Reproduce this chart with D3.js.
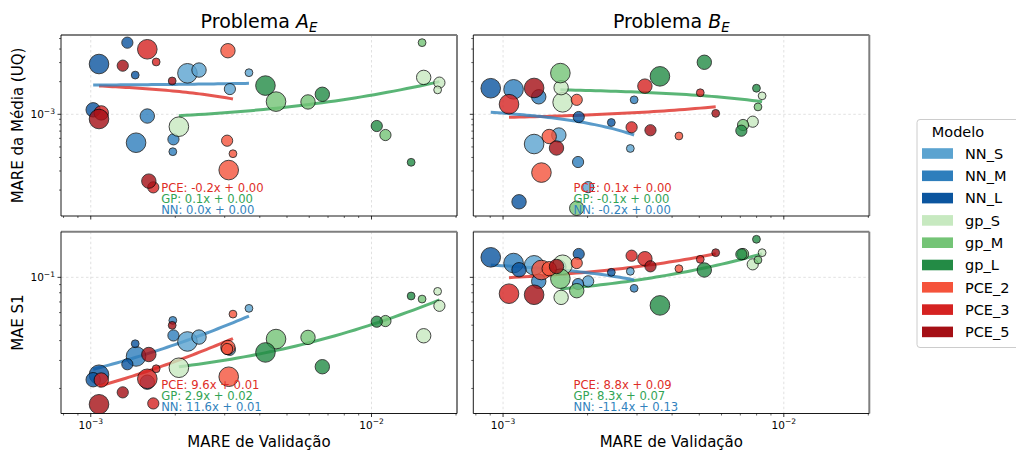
<!DOCTYPE html>
<html><head><meta charset="utf-8">
<script src="https://cdn.jsdelivr.net/npm/d3@7"></script>
<style>
body{margin:0;background:#fff;}
svg{display:block;font-family:"DejaVu Sans",sans-serif;}
</style>
</head><body>
<svg id="c" width="1016" height="450"></svg>
<script>
// ---------------- DATA ----------------
const modelos = ["NN_S","NN_M","NN_L","gp_S","gp_M","gp_L","PCE_2","PCE_3","PCE_5"];
const problemasTitulo = ["A","B"];
// model of each point (same layout in both problems)
const modeloPonto = [
 "NN_S","NN_S","NN_S","NN_S","NN_M","NN_M","NN_M","NN_M","NN_L","NN_L","NN_L","NN_L",
 "gp_S","gp_S","gp_S","gp_S","gp_M","gp_M","gp_M","gp_M","gp_L","gp_L","gp_L","gp_L",
 "PCE_2","PCE_2","PCE_2","PCE_2","PCE_3","PCE_3","PCE_3","PCE_3","PCE_5","PCE_5","PCE_5","PCE_5"];
// size class of each point (1 = smallest ... 4 = largest)
const tamanhoPonto = [4,3,2,1, 4,3,2,1, 4,3,2,1, 4,3,2,1, 4,3,2,1, 4,3,2,1, 4,3,2,1, 4,3,2,1, 4,3,2,1];

// Problema A_E
const valA = [2.21e-3,2.43e-3,3.13e-3,3.66e-3, 1.45e-3,1.59e-3,1.97e-3,1.96e-3, 1.07e-3,1.02e-3,1.35e-3,1.44e-3,
              2.06e-3,1.534e-2,1.745e-2,1.72e-2, 4.57e-3,5.94e-3,1.121e-2,1.514e-2, 4.19e-3,6.68e-3,1.044e-2,1.384e-2,
              3.10e-3,3.08e-3,3.06e-3,3.21e-3, 1.59e-3,1.09e-3,1.67e-3,1.71e-3, 1.07e-3,1.61e-3,1.30e-3,1.95e-3];
const uqA  = [2.39e-3,2.56e-3,1.71e-3,2.42e-3, 5.47e-4,9.64e-4,5.88e-4,4.52e-4, 2.91e-3,1.10e-3,4.58e-3,2.30e-3,
              7.69e-4,2.19e-3,1.96e-3,1.68e-3, 1.31e-3,1.30e-3,6.44e-4,4.58e-3, 1.84e-3,1.53e-3,7.80e-4,3.61e-4,
              3.06e-4,3.86e-3,5.71e-4,4.33e-4, 3.98e-3,1.03e-3,2.12e-4,3.04e-3, 9.05e-4,2.42e-4,2.81e-3,2.03e-3];
const s1A  = [0.0395,0.0421,0.0350,0.0638, 0.0318,0.0219,0.0431,0.0536, 0.0244,0.0227,0.0284,0.0382,
              0.0270,0.0429,0.0662,0.0816, 0.0409,0.0419,0.0531,0.0730, 0.0337,0.0274,0.0526,0.0763,
              0.0237,0.0362,0.0354,0.0587, 0.0230,0.0226,0.0161,0.0266, 0.0159,0.0327,0.0189,0.0499];

// Problema B_E
const valB = [1.29e-3,1.58e-3,2.01e-3,2.84e-3, 1.09e-3,1.34e-3,1.85e-3,2.93e-3, 9.04e-4,1.14e-3,1.86e-3,2.43e-3,
              1.63e-3,1.61e-3,7.75e-3,8.37e-3, 1.60e-3,1.83e-3,7.16e-3,8.09e-3, 3.62e-3,5.21e-3,7.06e-3,7.99e-3,
              1.37e-3,1.46e-3,1.83e-3,4.23e-3, 1.05e-3,3.20e-3,2.87e-3,5.04e-3, 1.29e-3,1.55e-3,3.35e-3,5.72e-3];
const uqB  = [5.32e-4,6.44e-4,2.13e-4,4.84e-4, 1.70e-3,1.45e-3,3.63e-4,1.36e-3, 1.74e-3,1.56e-4,9.44e-4,8.40e-4,
              1.29e-3,1.76e-3,8.55e-4,1.48e-3, 2.40e-3,1.36e-4,7.97e-4,1.17e-3, 2.24e-3,3.02e-3,7.06e-4,1.74e-3,
              2.90e-4,6.24e-4,1.36e-3,6.31e-4, 1.24e-3,1.82e-3,7.59e-4,1.58e-3, 1.75e-3,4.89e-4,7.13e-4,1.02e-3];
const s1B  = [0.1190,0.1161,0.0944,0.1091, 0.1230,0.0944,0.0907,0.0853, 0.1336,0.1116,0.1402,0.1075,
              0.1200,0.0748,0.1207,0.1429, 0.0980,0.0824,0.1402,0.1285, 0.0666,0.1112,0.1395,0.1735,
              0.1112,0.1133,0.1230,0.1133, 0.0789,0.1310,0.1368,0.1298, 0.0777,0.1170,0.1173,0.1429];

// linear fits y = a*x + b  (order: PCE, GP, NN)
const gruposAjuste = ["PCE","GP","NN"];
const inclA_UQ = [-0.206, 0.0669, 0.026],  intA_UQ = [2.046e-3, 0.833e-3, 1.836e-3];
const inclA_S1 = [9.6, 2.9, 11.6],         intA_S1 = [0.0104, 0.0214, 0.0146];
const inclB_UQ = [0.0507, -0.0552, -0.197], intB_UQ = [0.885e-3, 1.769e-3, 1.221e-3];
const inclB_S1 = [8.8, 8.3, -11.4],        intB_S1 = [0.0903, 0.0712, 0.1297];

// axis ticks
const xTicksMaior = [1e-3, 1e-2];
const yTicksMaiorUQ = [1e-3];
const yTicksMaiorS1 = [1e-1];

// ---------------- STYLE ----------------
const corModelo = {NN_S:"#5ba3d0",NN_M:"#2e7ebc",NN_L:"#0b559f",gp_S:"#c7e9c0",gp_M:"#74c476",gp_L:"#238b45",
                   PCE_2:"#f5533b",PCE_3:"#d52221",PCE_5:"#a50f15"};
const corGrupo = {PCE:"#de2d26", GP:"#31a354", NN:"#3182bd"};
const grupoDe = m => m.startsWith("NN") ? "NN" : (m.startsWith("gp") ? "GP" : "PCE");
const rScale = d3.scaleOrdinal().domain([1,2,3,4]).range([3.9,5.6,7.2,9.8]);

const PW = 396;
const xDomain = [Math.pow(10,-3.106), Math.pow(10,-1.6955)];
const colunas = [61, 473.3];
const linhas = [
  {y0:35, h:181, dom:[Math.pow(10,-3.938), Math.pow(10,-2.2685)], chave:"uq", maior:yTicksMaiorUQ, rot:"MARE da Média (UQ)"},
  {y0:231.7, h:181.8, dom:[Math.pow(10,-1.8565), Math.pow(10,-0.713)], chave:"s1", maior:yTicksMaiorS1, rot:"MAE S1"}
];
const probs = [
  {val:valA, uq:uqA, s1:s1A, aj:{uq:[inclA_UQ,intA_UQ], s1:[inclA_S1,intA_S1]}},
  {val:valB, uq:uqB, s1:s1B, aj:{uq:[inclB_UQ,intB_UQ], s1:[inclB_S1,intB_S1]}}
];

const svg = d3.select("#c");
const FONT_TICK = 10.5;

function supLabel(sel, v){
  const e = Math.round(Math.log10(v));
  sel.append("tspan").text("10");
  sel.append("tspan").attr("dy",-4.6).attr("font-size",FONT_TICK*0.72).text("\u2212"+Math.abs(e));
}

let clipId = 0;
probs.forEach((P, ci) => {
  const x0 = colunas[ci];
  const x = d3.scaleLog().domain(xDomain).range([x0, x0+PW]);
  const xMenor = x.ticks().filter(t => !xTicksMaior.some(m => Math.abs(m-t)/m < 1e-6));
  linhas.forEach((L, ri) => {
    const y = d3.scaleLog().domain(L.dom).range([L.y0+L.h, L.y0]);
    const yMenor = y.ticks().filter(t => !L.maior.some(m => Math.abs(m-t)/m < 1e-6));
    const g = svg.append("g");
    const cid = "clip"+(clipId++);
    svg.append("clipPath").attr("id",cid).append("rect").attr("x",x0).attr("y",L.y0).attr("width",PW).attr("height",L.h);
    const gc = g.append("g").attr("clip-path",`url(#${cid})`);
    // grid
    xTicksMaior.forEach(t => gc.append("line").attr("x1",x(t)).attr("x2",x(t)).attr("y1",L.y0).attr("y2",L.y0+L.h)
      .attr("stroke","#d9d9d9").attr("stroke-width",0.8).attr("stroke-dasharray","2.5,2.5"));
    L.maior.forEach(t => gc.append("line").attr("x1",x0).attr("x2",x0+PW).attr("y1",y(t)).attr("y2",y(t))
      .attr("stroke","#d9d9d9").attr("stroke-width",0.8).attr("stroke-dasharray","2.5,2.5"));
    // fit lines
    const vals = P[L.chave];
    const [incl, inter] = P.aj[L.chave];
    gruposAjuste.forEach((gname, k) => {
      const xs = P.val.filter((v,i) => grupoDe(modeloPonto[i]) === gname);
      const [xa, xb] = d3.extent(xs);
      const la = Math.log10(xa), lb = Math.log10(xb);
      const pts = d3.range(41).map(j => { const xv = Math.pow(10, la + (lb-la)*j/40); return [xv, incl[k]*xv + inter[k]]; });
      gc.append("path").attr("d", d3.line().x(d => x(d[0])).y(d => y(d[1]))(pts))
        .attr("fill","none").attr("stroke",corGrupo[gname]).attr("stroke-width",3).attr("opacity",0.8);
    });
    // annotations
    const fr = [0.15, 0.09, 0.03];
    gruposAjuste.forEach((gname, k) => {
      g.append("text").attr("x", x0 + 0.253*PW).attr("y", L.y0 + L.h*(1-fr[k]) + 3.2)
        .attr("font-size",11.6).attr("fill",corGrupo[gname])
        .text(`${gname}: ${incl[k].toFixed(1)}x + ${inter[k].toFixed(2)}`);
    });
    // points
    gc.append("g").selectAll("circle").data(d3.range(modeloPonto.length)).join("circle")
      .attr("cx", i => x(P.val[i])).attr("cy", i => y(vals[i])).attr("r", i => rScale(tamanhoPonto[i]))
      .attr("fill", i => corModelo[modeloPonto[i]]).attr("stroke","#000").attr("stroke-width",0.9).attr("opacity",0.8);
    // spines
    g.append("line").attr("x1",x0).attr("x2",x0+PW).attr("y1",L.y0).attr("y2",L.y0).attr("stroke","#7f7f7f").attr("stroke-width",2);
    g.append("line").attr("x1",x0+PW).attr("x2",x0+PW).attr("y1",L.y0).attr("y2",L.y0+L.h).attr("stroke","#7f7f7f").attr("stroke-width",2);
    g.append("line").attr("x1",x0).attr("x2",x0).attr("y1",L.y0).attr("y2",L.y0+L.h).attr("stroke","#000").attr("stroke-width",0.9);
    g.append("line").attr("x1",x0).attr("x2",x0+PW).attr("y1",L.y0+L.h).attr("y2",L.y0+L.h).attr("stroke","#000").attr("stroke-width",0.9);
    // x ticks
    const yb = L.y0+L.h;
    xTicksMaior.forEach(t => g.append("line").attr("x1",x(t)).attr("x2",x(t)).attr("y1",yb).attr("y2",yb+3.5).attr("stroke","#000").attr("stroke-width",0.8));
    xMenor.forEach(t => g.append("line").attr("x1",x(t)).attr("x2",x(t)).attr("y1",yb).attr("y2",yb+2).attr("stroke","#000").attr("stroke-width",0.6));
    // y ticks
    L.maior.forEach(t => g.append("line").attr("x1",x0-3.5).attr("x2",x0).attr("y1",y(t)).attr("y2",y(t)).attr("stroke","#000").attr("stroke-width",0.8));
    yMenor.forEach(t => g.append("line").attr("x1",x0-2).attr("x2",x0).attr("y1",y(t)).attr("y2",y(t)).attr("stroke","#000").attr("stroke-width",0.6));
    // tick labels
    if (ri === 1) {
      xTicksMaior.forEach(t => { const tx = g.append("text").attr("x",x(t)).attr("y",yb+15.5).attr("text-anchor","middle")
        .attr("font-size",FONT_TICK).attr("fill","#000"); supLabel(tx,t); });
      g.append("text").attr("x", x0+PW/2).attr("y", 446.5).attr("text-anchor","middle").attr("font-size",15).text("MARE de Validação");
    }
    if (ci === 0) {
      L.maior.forEach(t => { const tx = g.append("text").attr("x",x0-6).attr("y",y(t)+3.8).attr("text-anchor","end")
        .attr("font-size",FONT_TICK).attr("fill","#000"); supLabel(tx,t); });
      g.append("text").attr("transform",`translate(23,${L.y0+L.h/2}) rotate(-90)`).attr("text-anchor","middle")
        .attr("font-size",15).text(L.rot);
    }
    if (ri === 0) {
      const tt = g.append("text").attr("x", x0+PW/2).attr("y", 28).attr("text-anchor","middle").attr("font-size",19);
      tt.append("tspan").text("Problema ");
      tt.append("tspan").attr("font-style","italic").text(problemasTitulo[ci]);
      tt.append("tspan").attr("font-style","italic").attr("font-size",13.3).attr("dy",3.6).text("E");
    }
  });
});

// legend
const lg = svg.append("g");
lg.append("rect").attr("x",917).attr("y",119.5).attr("width",112).attr("height",228).attr("rx",3)
  .attr("fill","#fff").attr("stroke","#cccccc").attr("stroke-width",1);
lg.append("text").attr("x",958).attr("y",136.5).attr("text-anchor","middle").attr("font-size",14.5).text("Modelo");
modelos.forEach((m,i) => {
  const cy = 153.5 + i*22.3;
  lg.append("rect").attr("x",922).attr("y",cy-5.3).attr("width",31).attr("height",10.6).attr("fill",corModelo[m]);
  lg.append("text").attr("x",965).attr("y",cy+5.2).attr("font-size",14.5).text(m);
});
</script>
</body></html>
